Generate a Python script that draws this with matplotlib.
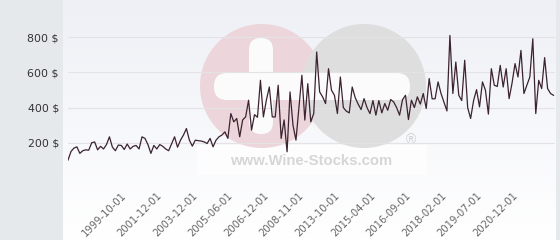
import numpy as np
import matplotlib.pyplot as plt
from matplotlib.colors import LinearSegmentedColormap
from matplotlib.patches import Circle, FancyBboxPatch, Rectangle

# price per bottle, one value per listing (category axis)
prices = [
    102, 150, 170, 177, 140, 155, 160, 158, 200, 205,
    160, 180, 165, 190, 234, 175, 155, 187, 185, 162,
    193, 165, 180, 185, 165, 234, 225, 190, 140, 185,
    165, 190, 180, 165, 155, 195, 234, 175, 215, 244,
    281, 215, 181, 215, 212, 210, 205, 196, 225, 177,
    215, 234, 244, 262, 225, 366, 319, 338, 234, 330,
    347, 442, 272, 360, 345, 555, 347, 442, 517, 347,
    347, 527, 225, 330, 149, 489, 300, 215, 400, 584,
    329, 536, 319, 366, 716, 489, 461, 423, 621, 499,
    470, 366, 574, 400, 380, 370, 517, 457, 420, 389,
    451, 400, 366, 440, 357, 440, 370, 423, 385, 446,
    432, 400, 357, 445, 470, 332, 442, 400, 461, 420,
    480, 395, 565, 450, 450, 546, 480, 430, 381, 810,
    480, 659, 470, 440, 669, 400, 338, 440, 502, 404,
    546, 499, 363, 621, 527, 520, 640, 517, 621, 451,
    540, 650, 574, 725, 480, 527, 574, 791, 366, 555,
    508, 684, 508, 480, 470,
]
tick_labels = [
    "1999-10-01", "2001-12-01", "2003-12-01", "2005-06-01",
    "2006-12-01", "2008-11-01", "2013-10-01", "2015-04-01",
    "2016-09-01", "2018-02-01", "2019-07-01", "2020-12-01",
]
first_tick = 18
tick_step = 12
y_ticks = [0, 200, 400, 600, 800]

fig = plt.figure(figsize=(5.6, 2.4), dpi=100)

# background layer in pixel coordinates
bg = fig.add_axes([0, 0, 1, 1])
bg.axis("off")
grad = np.linspace(0, 1, 200)[:, None]
cmap = LinearSegmentedColormap.from_list("panel", ["#eef0f6", "#ffffff"])
bg.imshow(grad, extent=(63, 556, 240, 0), cmap=cmap, aspect="auto")
bg.add_patch(Rectangle((0, 0), 63, 240, color="#e6e9ec", lw=0))
bg.add_patch(Rectangle((556, 0), 4, 240, color="#e6e9ec", lw=0))

# watermark
bg.add_patch(Rectangle((197, 145), 230, 30, color="#fdfdfe", lw=0))
bg.add_patch(Circle((262, 86), 62, color="#ecd6db", lw=0))
bg.add_patch(Circle((364, 86), 62, color="#dedede", lw=0))
bg.add_patch(FancyBboxPatch((214, 73), 196, 27, boxstyle="round,pad=0,rounding_size=13",
                            color="#fbfbfc", lw=0))
bg.add_patch(FancyBboxPatch((249, 38), 24, 96, boxstyle="round,pad=0,rounding_size=12",
                            color="#fbfbfc", lw=0))
bg.text(311, 161, "www.Wine-Stocks.com", ha="center", va="center", fontsize=10.7,
        fontweight="bold", family="Liberation Sans", color="#d6d6d6")
bg.text(411, 140, "\u00ae", ha="center", va="center", fontsize=10,
        family="Liberation Sans", color="#d0d0d0")
bg.set_xlim(0, 560)
bg.set_ylim(240, 0)

ax = fig.add_axes([68 / 560, 62 / 240, 487 / 560, 176 / 240])
ax.patch.set_alpha(0)
x = np.arange(len(prices))
ax.plot(x, prices, color="#3b2330", lw=0.9, zorder=3)

ax.set_xlim(0, len(prices) - 0.5)
ax.set_ylim(0, 1000)
ax.set_yticks(y_ticks)
ax.set_yticklabels([""] + [f"{v} $" for v in y_ticks[1:]])
ax.grid(axis="y", color="#e3e3e6", lw=0.8)
ax.set_xticks([first_tick + tick_step * i for i in range(len(tick_labels))])
ax.set_xticklabels(tick_labels, rotation=45, ha="right", rotation_mode="anchor",
                   fontsize=7.2, color="#666666")
ax.tick_params(axis="x", length=0, pad=9)
ax.tick_params(axis="y", length=0, pad=6.5, labelsize=7.9, labelcolor="#333333")
for s in ax.spines.values():
    s.set_visible(False)

fig.savefig("out.png", dpi=100)
